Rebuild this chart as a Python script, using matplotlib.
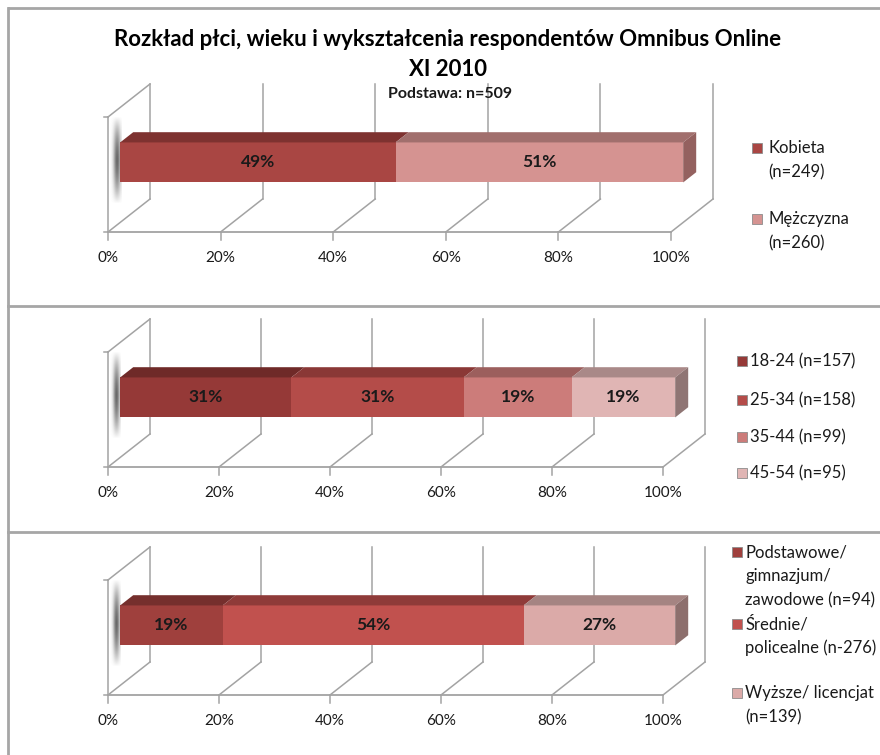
import numpy as np
import matplotlib
matplotlib.use("Agg")
import matplotlib.pyplot as plt
from matplotlib.patches import Polygon, Rectangle
from matplotlib.lines import Line2D

plt.rcParams['font.family'] = ['Lato', 'DejaVu Sans']

# dane
title = "Rozkład płci, wieku i wykształcenia respondentów Omnibus Online"
subtitle = "XI 2010"
base_note = "Podstawa: n=509"
tick_vals = [0, 20, 40, 60, 80, 100]
tick_labels = ["0%", "20%", "40%", "60%", "80%", "100%"]

sex_counts = [249, 260]
sex_pct_labels = ["49%", "51%"]
sex_legend = ["Kobieta\n(n=249)", "Mężczyzna\n(n=260)"]

age_counts = [157, 158, 99, 95]
age_pct_labels = ["31%", "31%", "19%", "19%"]
age_legend = ["18-24 (n=157)", "25-34 (n=158)", "35-44 (n=99)", "45-54 (n=95)"]

edu_counts = [94, 276, 139]
edu_pct_labels = ["19%", "54%", "27%"]
edu_legend = ["Podstawowe/\ngimnazjum/\nzawodowe (n=94)", "Średnie/\npolicealne (n-276)",
              "Wyższe/ licencjat\n(n=139)"]

sex_front = ['#A94643', '#D59391']
sex_top = ['#7E3230', '#A16F6D']
age_front = ['#953937', '#B44C49', '#CC7C7A', '#E0B5B4']
age_top = ['#6F2A28', '#8A3836', '#9C5F5D', '#A98988']
edu_front = ['#9F403D', '#C1514E', '#DBAAA8']
edu_top = ['#752F2D', '#8F3B39', '#A58482']

W, H = 880, 755
fig = plt.figure(figsize=(W / 100, H / 100), dpi=100)
fig.patch.set_facecolor('white')

GRID = '#A3A3A3'
DXP, DYP = 42, 33          # glebokosc "3D" w pikselach
WALL_H = 115
BAR_H0, BAR_H1 = 40, 80
D0, D1 = 0.29, 0.60


def panel(floor_px, x0_px, x100_px, counts, pct_labels, fronts, tops, side):
    ppp = (x100_px - x0_px) / 100.0
    left, right = 20, 745
    top, bottom = floor_px - 175, floor_px + 45
    ax = fig.add_axes([left / W, 1 - bottom / H, (right - left) / W, (bottom - top) / H])
    ax.axis('off')

    def P(v, h, d):
        return (v + d * DXP / ppp, h + d * DYP)

    # sciany i siatka
    for v, lab in zip(tick_vals, tick_labels):
        a, b = P(v, 0, 1), P(v, WALL_H, 1)
        ax.plot([a[0], b[0]], [a[1], b[1]], color=GRID, lw=1.1, zorder=1)
        c = P(v, 0, 0)
        ax.plot([c[0], a[0]], [c[1], a[1]], color=GRID, lw=1.1, zorder=1)
        ax.plot([v, v], [0, -8], color=GRID, lw=1.1, zorder=1)
        ax.text(v, -26, lab, ha='center', va='center', fontsize=11, color='#1A1A1A')
    ax.plot([0, 100], [0, 0], color=GRID, lw=1.3, zorder=1)
    ax.plot([0, 0], [0, WALL_H], color=GRID, lw=1.1, zorder=1)
    t0, t1 = P(0, WALL_H, 0), P(0, WALL_H, 1)
    ax.plot([t0[0], t1[0]], [t0[1], t1[1]], color=GRID, lw=1.1, zorder=1)
    for hh in (0, WALL_H):
        ax.plot([0, -4 / ppp], [hh, hh], color=GRID, lw=1.1, zorder=1)

    # cien na lewej scianie
    yy, xx = np.mgrid[-1:1:80j, -1:1:30j]
    alpha = 0.85 * np.exp(-((xx - 0.2) * 1.6) ** 2) * np.clip(1 - np.abs(yy) ** 1.6, 0, 1)
    img = np.zeros((80, 30, 4))
    img[..., :3] = 0.30
    img[..., 3] = alpha
    sx, sy = P(0, 0, D0)
    ax.imshow(img, extent=[sx - 10 / ppp, sx + 1 / ppp, sy + BAR_H0 - 22, sy + BAR_H1 + 26],
              aspect='auto', zorder=2, origin='lower', interpolation='bilinear')

    # slupek skumulowany
    total = float(sum(counts))
    start = 0.0
    for cnt, lab, fc, tc in zip(counts, pct_labels, fronts, tops):
        w = cnt / total * 100
        x0, x1 = start, start + w
        f = [P(x0, BAR_H0, D0), P(x1, BAR_H0, D0), P(x1, BAR_H1, D0), P(x0, BAR_H1, D0)]
        ax.add_patch(Polygon(f, closed=True, facecolor=fc, edgecolor='none', zorder=3))
        t = [P(x0, BAR_H1, D0), P(x1, BAR_H1, D0), P(x1, BAR_H1, D1), P(x0, BAR_H1, D1)]
        ax.add_patch(Polygon(t, closed=True, facecolor=tc, edgecolor='none', zorder=3))
        cx, cy = P((x0 + x1) / 2, (BAR_H0 + BAR_H1) / 2, D0)
        ax.text(cx, cy, lab, ha='center', va='center', fontsize=12.5, fontweight='bold',
                color='#1A1A1A', zorder=5)
        start = x1
    s = [P(100, BAR_H0, D0), P(100, BAR_H1, D0), P(100, BAR_H1, D1), P(100, BAR_H0, D1)]
    ax.add_patch(Polygon(s, closed=True, facecolor=side, edgecolor='none', zorder=3))

    ax.set_xlim((left - x0_px) / ppp, (right - x0_px) / ppp)
    ax.set_ylim(floor_px - bottom, floor_px - top)
    return ax


def legend(entries, colors, mx, tx, ys, line_gap=24):
    for ent, col, y in zip(entries, colors, ys):
        fig.add_artist(Rectangle(((mx - 5) / W, 1 - (y + 5) / H), 10 / W, 10 / H,
                                 transform=fig.transFigure, facecolor=col,
                                 edgecolor='#8C8C8C', lw=0.6))
        for i, line in enumerate(ent.split("\n")):
            fig.text(tx / W, 1 - (y + i * line_gap) / H, line, ha='left', va='center',
                     fontsize=12, color='#1A1A1A')


# ramki paneli
border = dict(color='#A6A6A6', lw=2, transform=fig.transFigure)
fig.add_artist(Line2D([9 / W, 1], [1 - 8 / H, 1 - 8 / H], **border))
fig.add_artist(Line2D([8 / W, 8 / W], [1 - 8 / H, 0], **border))
fig.add_artist(Line2D([8 / W, 1], [1 - 306 / H, 1 - 306 / H], **border))
fig.add_artist(Line2D([8 / W, 1], [1 - 532 / H, 1 - 532 / H], **border))

fig.text(448 / W, 1 - 40 / H, title, ha='center', va='center', fontsize=16, fontweight='bold')
fig.text(448 / W, 1 - 69 / H, subtitle, ha='center', va='center', fontsize=16, fontweight='bold')

panel(232, 108, 671, sex_counts, sex_pct_labels, sex_front, sex_top, '#94615F')
fig.text(450 / W, 1 - 94 / H, base_note, ha='center', va='center', fontsize=11.5,
         fontweight='bold', color='#1A1A1A')
legend(sex_legend, sex_front, 757, 768, [148, 219])

panel(467, 108, 663, age_counts, age_pct_labels, age_front, age_top, '#8F7574')
legend(age_legend, age_front, 742, 750, [361, 400, 437, 473])

panel(695, 108, 663, edu_counts, edu_pct_labels, edu_front, edu_top, '#8D6F6D')
legend(edu_legend, edu_front, 737, 745, [552, 624, 693])

fig.savefig("out.png", dpi=100)
